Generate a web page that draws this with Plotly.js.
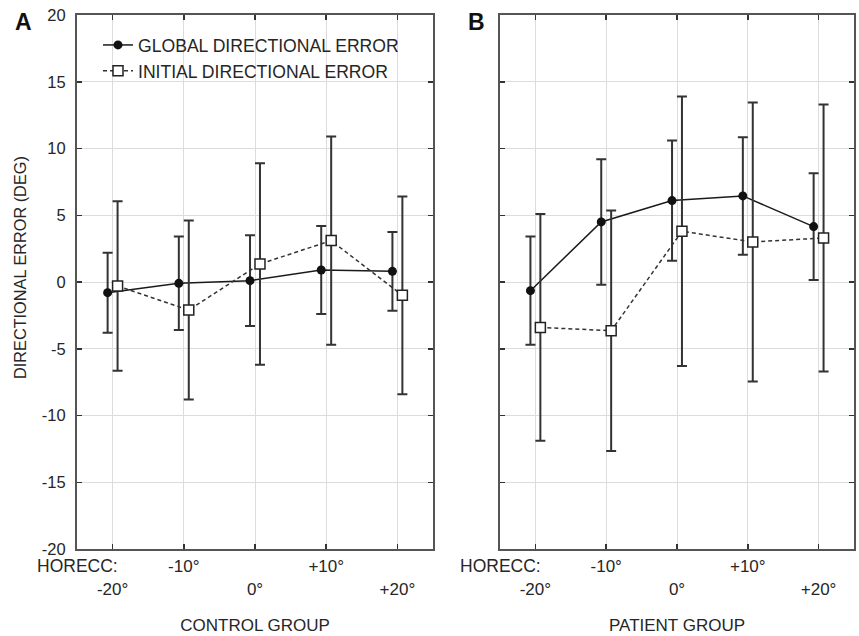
<!DOCTYPE html>
<html>
<head>
<meta charset="utf-8">
<script src="https://cdn.plot.ly/plotly-3.0.1.min.js"></script>
<style>html,body{margin:0;padding:0;background:#fff;}#chart{width:859px;height:636px;}</style>
</head>
<body>
<div id="chart"></div>
<script>
// ---- data ----
const categories = ["-20°", "-10°", "0°", "+10°", "+20°"];
const controlGlobal = [-0.8, -0.1, 0.1, 0.9, 0.8];
const controlGlobalErr = [3.0, 3.5, 3.4, 3.3, 2.95];
const controlInitial = [-0.3, -2.1, 1.35, 3.1, -1.0];
const controlInitialErr = [6.35, 6.7, 7.55, 7.8, 7.4];
const patientGlobal = [-0.65, 4.5, 6.1, 6.45, 4.15];
const patientGlobalErr = [4.05, 4.7, 4.5, 4.4, 4.0];
const patientInitial = [-3.4, -3.65, 3.8, 3.0, 3.3];
const patientInitialErr = [8.5, 9.0, 10.1, 10.45, 10.0];
const seriesNames = ["GLOBAL DIRECTIONAL ERROR", "INITIAL DIRECTIONAL ERROR"];
const groupTitles = ["CONTROL GROUP", "PATIENT GROUP"];
const panelLetters = ["A", "B"];
const yTicks = [-20, -15, -10, -5, 0, 5, 10, 15, 20];
const yTickLabels = ["-20", "-15", "-10", "-5", "0", "5", "10", "15", "20"];

// ---- styling ----
const FONT = "Liberation Sans, Arial, sans-serif";
const TXT = "#262626";
const idx = categories.map((c, i) => i);
const shift = 0.07;
const tickText = categories.map((c, i) => (i % 2 === 0 ? "<br>" + c : c));

function globalTrace(y, err, xa, ya, show) {
  return {
    x: idx.map(i => i - shift), y: y, xaxis: xa, yaxis: ya,
    type: "scatter", mode: "lines+markers", name: seriesNames[0],
    showlegend: show, legendgroup: "g",
    line: {color: "#1a1a1a", width: 1.5},
    marker: {symbol: "circle", size: 9, color: "#111"},
    error_y: {type: "data", array: err, visible: true, color: "#333", thickness: 2, width: 5}
  };
}
function initialTrace(y, err, xa, ya, show) {
  return {
    x: idx.map(i => i + shift), y: y, xaxis: xa, yaxis: ya,
    type: "scatter", mode: "lines+markers", name: seriesNames[1],
    showlegend: show, legendgroup: "i",
    line: {color: "#333", width: 1.5, dash: "4px,3px"},
    marker: {symbol: "square", size: 10, color: "#fff", line: {color: "#222", width: 1.5}},
    error_y: {type: "data", array: err, visible: true, color: "#333", thickness: 2, width: 5}
  };
}

const data = [
  globalTrace(controlGlobal, controlGlobalErr, "x", "y", true),
  initialTrace(controlInitial, controlInitialErr, "x", "y", true),
  globalTrace(patientGlobal, patientGlobalErr, "x2", "y2", false),
  initialTrace(patientInitial, patientInitialErr, "x2", "y2", false)
];

function xAxis(domain, anchor, title) {
  return {
    domain: domain, anchor: anchor, range: [-0.5, 4.5],
    tickmode: "array", tickvals: idx, ticktext: tickText,
    tickfont: {family: FONT, size: 17, color: TXT},
    ticks: "inside", ticklen: 5, tickwidth: 1.5, tickcolor: "#333",
    showline: true, linecolor: "#555", linewidth: 2, mirror: "ticks",
    showgrid: true, gridcolor: "#dcdcdc", gridwidth: 1,
    zeroline: false, automargin: false, fixedrange: true,
    ticklabelstandoff: 1,
    title: {text: title, font: {family: FONT, size: 17, color: TXT}, standoff: 22}
  };
}
function yAxis(domain, anchor, labels) {
  return {
    domain: domain, anchor: anchor, range: [-20, 20],
    tickmode: "array", tickvals: yTicks, ticktext: yTickLabels,
    showticklabels: labels,
    tickfont: {family: FONT, size: 16.5, color: TXT},
    ticks: "inside", ticklen: 5, tickwidth: 1.5, tickcolor: "#333",
    showline: true, linecolor: "#555", linewidth: 2, mirror: "ticks",
    showgrid: true, gridcolor: "#dcdcdc", gridwidth: 1,
    zeroline: false, automargin: false, fixedrange: true,
    ticklabelstandoff: 6
  };
}

const W = 859, H = 636;
const yDom = [1 - 549 / H, 1 - 15 / H];
const layout = {
  width: W, height: H,
  margin: {l: 0, r: 0, t: 0, b: 0},
  paper_bgcolor: "#fff", plot_bgcolor: "#fff",
  font: {family: FONT, color: TXT},
  xaxis: xAxis([77 / W, 433 / W], "y", groupTitles[0]),
  yaxis: yAxis(yDom, "x", true),
  xaxis2: xAxis([500 / W, 854 / W], "y2", groupTitles[1]),
  yaxis2: yAxis(yDom, "x2", false),
  showlegend: true,
  legend: {
    x: 98 / W, y: 1 - 27 / H, xanchor: "left", yanchor: "top",
    bgcolor: "rgba(0,0,0,0)", borderwidth: 0,
    font: {family: FONT, size: 17.6, color: TXT},
    itemwidth: 30, tracegroupgap: 0
  },
  annotations: [
    {text: "<b>" + panelLetters[0] + "</b>", xref: "paper", yref: "paper", x: 23 / W, y: 1 - 22 / H,
     xanchor: "center", yanchor: "middle", showarrow: false, font: {family: FONT, size: 23, color: "#111"}},
    {text: "<b>" + panelLetters[1] + "</b>", xref: "paper", yref: "paper", x: 477 / W, y: 1 - 22 / H,
     xanchor: "center", yanchor: "middle", showarrow: false, font: {family: FONT, size: 23, color: "#111"}},
    {text: "DIRECTIONAL ERROR (DEG)", xref: "paper", yref: "paper", x: 20 / W, y: 1 - 268 / H,
     xanchor: "center", yanchor: "middle", textangle: -90, showarrow: false,
     font: {family: FONT, size: 16.3, color: TXT}},
    {text: "HORECC:", xref: "x domain", yref: "paper", x: 0, y: 1 - 566 / H,
     xanchor: "center", yanchor: "middle", showarrow: false, font: {family: FONT, size: 17.5, color: TXT}},
    {text: "HORECC:", xref: "x2 domain", yref: "paper", x: 0, y: 1 - 566 / H,
     xanchor: "center", yanchor: "middle", showarrow: false, font: {family: FONT, size: 17.5, color: TXT}}
  ]
};

Plotly.newPlot("chart", data, layout, {staticPlot: true, displayModeBar: false});
</script>
</body>
</html>
